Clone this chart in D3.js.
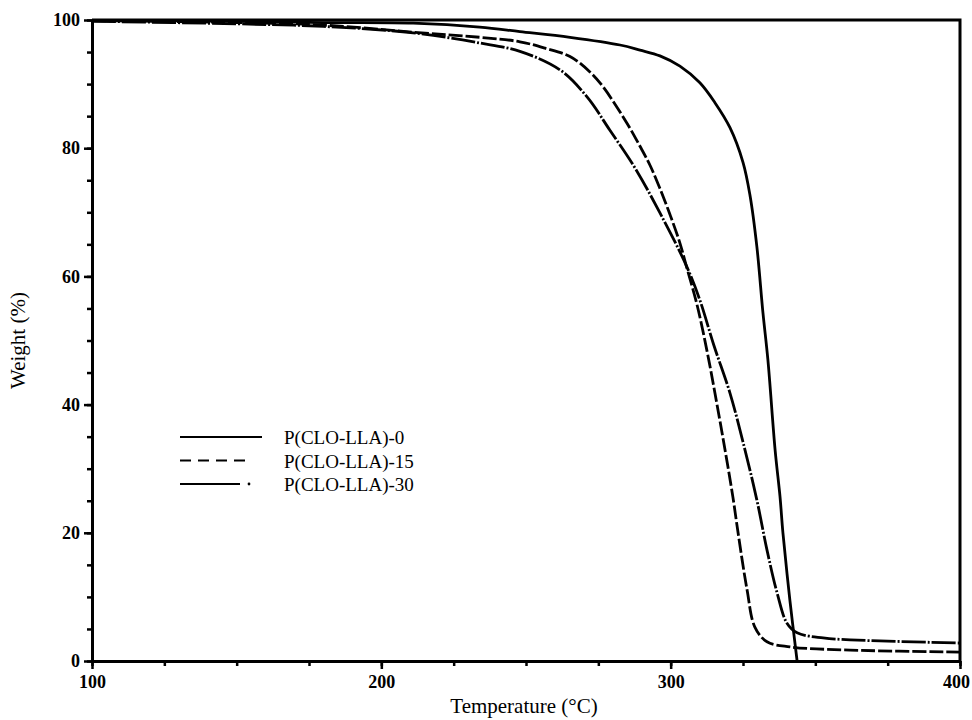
<!DOCTYPE html>
<html>
<head>
<meta charset="utf-8">
<script src="https://cdn.jsdelivr.net/npm/d3@7"></script>
<style>
  body { margin: 0; background: #fff; }
  svg { font-family: 'Liberation Serif', 'DejaVu Serif', serif; }
</style>
</head>
<body>
<div id="container"></div>
<script>
// TGA curves
const temp0 = [100, 150, 180, 211, 234, 247.9, 265.2, 282.5, 289.4, 296.3, 303.2, 310.1, 315.3, 320.5, 325.0, 327.4, 329.8, 331.9, 333.6, 336.1, 337.8, 338.8, 341.2, 343.7]
const weight0 = [99.9, 99.8, 99.6, 99.5, 98.9, 98.2, 97.3, 96.1, 95.3, 94.4, 92.8, 90.2, 87.1, 83.2, 77.8, 72.7, 64.6, 54.3, 47.0, 32.9, 25.6, 20.0, 9.5, 0]

const temp15 = [100, 150, 180, 211, 234.1, 247.9, 256.6, 265.2, 272.1, 276.6, 284.9, 289.4, 292.9, 296.3, 299.8, 303.2, 305.3, 309.1, 312.5, 315.3, 318.8, 321.5, 323.3, 326.4, 329.1, 333.3, 341.2, 362, 400]
const weight15 = [99.9, 99.6, 99.2, 98.1, 97.3, 96.6, 95.6, 94.3, 91.9, 89.6, 83.9, 80.3, 77.3, 73.7, 69.6, 65.2, 61.8, 55.6, 48.5, 41.8, 32.9, 25.6, 20.0, 11.1, 5.3, 3.0, 2.2, 1.7, 1.4]

const temp30 = [100, 150, 180, 211, 234.1, 247.9, 261.8, 271.1, 279.0, 287.7, 296.3, 305.3, 310.1, 314.9, 320.5, 325.7, 329.8, 333.3, 336.8, 340.2, 343.7, 352.7, 362, 400]
const weight30 = [99.8, 99.4, 99.0, 98.0, 96.4, 95.1, 92.2, 88.0, 82.8, 76.9, 69.9, 61.8, 56.3, 49.3, 41.8, 32.9, 25.1, 17.3, 10.6, 5.9, 4.4, 3.6, 3.3, 2.8]

const seriesNames = ['P(CLO-LLA)-0', 'P(CLO-LLA)-15', 'P(CLO-LLA)-30']
const xTicks = [100, 200, 300, 400]
const yTicks = [0, 20, 40, 60, 80, 100]

const w = 972
const h = 720
const padL = 92, padR = 960, padT = 20, padB = 661

const svg = d3.select('#container')
              .append('svg')
              .attr('width', w)
              .attr('height', h)

const xScale = d3.scaleLinear().domain([100, 400]).range([padL, padR])
const yScale = d3.scaleLinear().domain([0, 100]).range([padB, padT])

const series = [
  { name: seriesNames[0], t: temp0, wt: weight0, dash: null },
  { name: seriesNames[1], t: temp15, wt: weight15, dash: '14,3' },
  { name: seriesNames[2], t: temp30, wt: weight30, dash: '24,2,2,2' }
]

svg.append('clipPath').attr('id', 'clip')
   .append('rect')
   .attr('x', padL).attr('y', padT - 2)
   .attr('width', padR - padL).attr('height', padB - padT + 2)

const line = d3.line()
               .x(d => xScale(d[0]))
               .y(d => yScale(d[1]))
               .curve(d3.curveCatmullRom.alpha(0.5))

svg.append('g')
   .attr('clip-path', 'url(#clip)')
   .selectAll('path')
   .data(series)
   .enter()
   .append('path')
   .attr('d', s => line(s.t.map((t, i) => [t, s.wt[i]])))
   .attr('fill', 'none')
   .attr('stroke', '#000')
   .attr('stroke-width', 2.8)
   .attr('stroke-dasharray', s => s.dash)

// frame: top and right
svg.append('path')
   .attr('d', `M${padL},${padT}H${padR}V${padB}`)
   .attr('fill', 'none')
   .attr('stroke', '#000')
   .attr('stroke-width', 3)

// minor ticks
const xMinor = d3.axisBottom(xScale).tickValues(d3.range(100, 401, 25)).tickSize(5).tickSizeOuter(0).tickFormat('')
const yMinor = d3.axisLeft(yScale).tickValues(d3.range(0, 101, 5)).tickSize(5).tickSizeOuter(0).tickFormat('')
svg.append('g').attr('class', 'minor').attr('transform', `translate(0,${padB})`).call(xMinor)
svg.append('g').attr('class', 'minor').attr('transform', `translate(${padL},0)`).call(yMinor)

// major ticks
const xAxis = d3.axisBottom(xScale).tickValues(xTicks).tickSize(8).tickSizeOuter(0).tickPadding(6)
const yAxis = d3.axisLeft(yScale).tickValues(yTicks).tickSize(8).tickSizeOuter(0).tickPadding(4)
svg.append('g').attr('id', 'x-axis').attr('transform', `translate(0,${padB})`).call(xAxis)
svg.append('g').attr('id', 'y-axis').attr('transform', `translate(${padL},0)`).call(yAxis)

svg.selectAll('.domain').attr('stroke-width', 3)
svg.selectAll('.tick line').attr('stroke-width', 2.5)
svg.selectAll('.tick text')
   .attr('font-family', "'Liberation Serif', serif")
   .attr('font-size', 18)
   .attr('font-weight', 'bold')
   .attr('fill', '#000')
// last label sits at the window edge, keep it inside
svg.select('#x-axis').selectAll('.tick text').filter(d => d === 400).attr('dx', -4)

// axis titles
svg.append('text')
   .attr('x', (padL + padR) / 2 - 2)
   .attr('y', 713)
   .attr('text-anchor', 'middle')
   .attr('font-size', 21)
   .text('Temperature (°C)')

svg.append('text')
   .attr('transform', `translate(25, ${(padT + padB) / 2}) rotate(-90)`)
   .attr('text-anchor', 'middle')
   .attr('font-size', 21)
   .text('Weight (%)')

// legend
const legend = svg.append('g').attr('transform', 'translate(180, 437)')
const rowH = 23.5
legend.append('line').attr('x1', 0).attr('x2', 82).attr('y1', 0).attr('y2', 0)
      .attr('stroke', '#000').attr('stroke-width', 2)
legend.append('line').attr('x1', 0).attr('x2', 68).attr('y1', rowH).attr('y2', rowH)
      .attr('stroke', '#000').attr('stroke-width', 2).attr('stroke-dasharray', '11,7')
legend.append('line').attr('x1', 0).attr('x2', 60).attr('y1', rowH * 2).attr('y2', rowH * 2)
      .attr('stroke', '#000').attr('stroke-width', 2)
legend.append('circle').attr('cx', 69).attr('cy', rowH * 2).attr('r', 1.4).attr('fill', '#000')

legend.selectAll('text.lab')
      .data(seriesNames)
      .enter()
      .append('text')
      .attr('class', 'lab')
      .attr('x', 104)
      .attr('y', (d, i) => i * rowH + 7)
      .attr('font-size', 19)
      .text(d => d)
</script>
</body>
</html>
